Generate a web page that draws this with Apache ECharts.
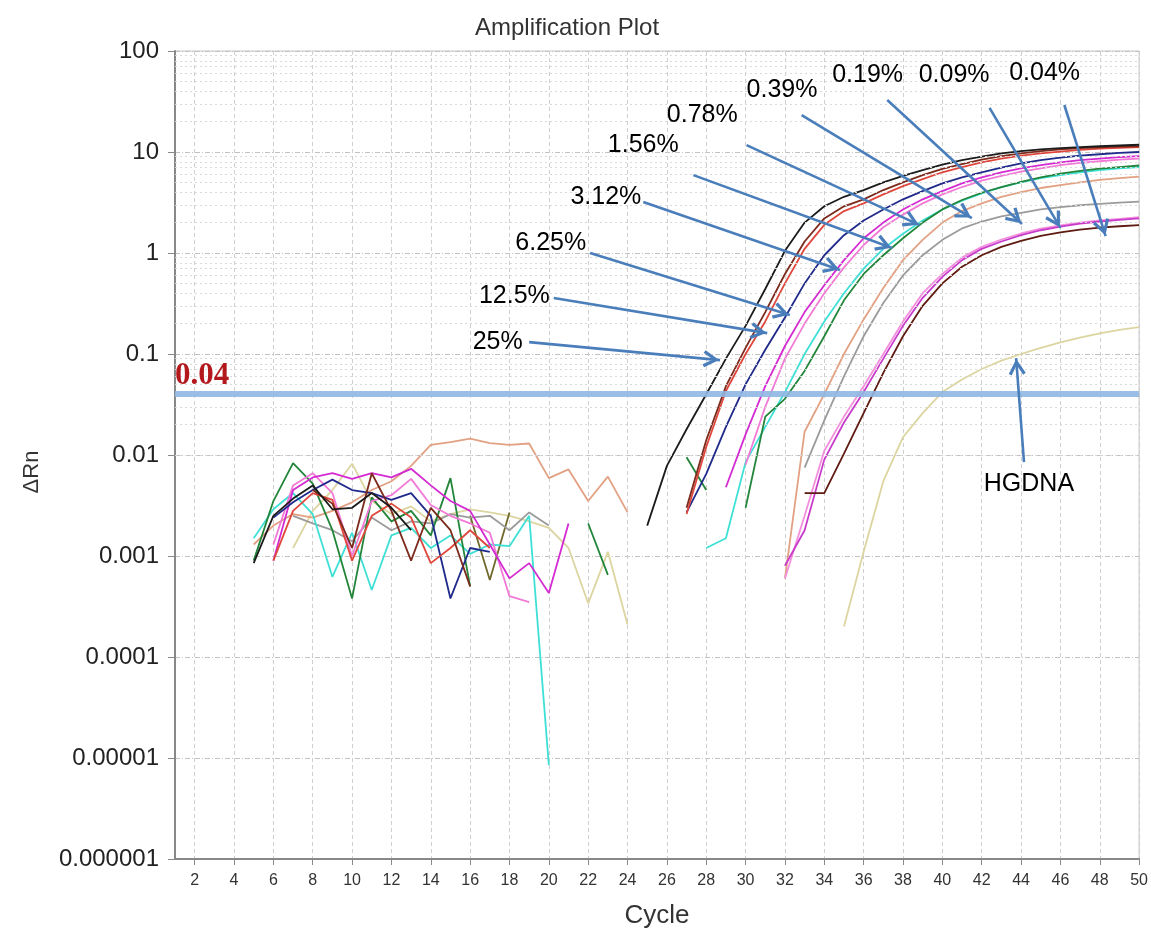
<!DOCTYPE html>
<html>
<head>
<meta charset="utf-8">
<script src="https://cdn.jsdelivr.net/npm/echarts@6/dist/echarts.min.js"></script>
<style>
html,body{margin:0;padding:0;background:#fff;}
#chart{width:1151px;height:934px;}
</style>
</head>
<body>
<div id="chart"></div>
<script>
// ---------------- DATA ----------------
const xTickValues = [2,4,6,8,10,12,14,16,18,20,22,24,26,28,30,32,34,36,38,40,42,44,46,48,50];
const yTickLabels = ['0.000001','0.00001','0.0001','0.001','0.01','0.1','1','10','100'];
const threshold = 0.04;

// each well: [cycle, ΔRn] pairs; separate segments where the trace is missing
const blackNoise = [[5,0.00085],[6,0.0025],[7,0.0037],[8,0.005],[9,0.0029],[10,0.003],[11,0.0042],[12,0.003],[13,0.0018]];
const blackAmp = [[25,0.002],[26,0.0078],[27,0.018],[28,0.04],[29,0.09],[30,0.19],[31,0.44],[32,1.05],[33,2.0],[34,2.9],[35,3.6],[36,4.2],[37,5.0],[38,5.8],[39,6.6],[40,7.5],[41,8.3],[42,9.0],[43,9.7],[44,10.2],[45,10.6],[46,10.9],[47,11.2],[48,11.4],[49,11.6],[50,11.8]];

const darkRedNoise = [[8,0.0045],[9,0.0033],[10,0.0012],[11,0.0066],[12,0.0028],[13,0.0009],[14,0.003],[15,0.0018],[16,0.0005]];
const darkRedAmp = [[27,0.003],[28,0.014],[29,0.048],[30,0.115],[31,0.26],[32,0.62],[33,1.3],[34,2.2],[35,2.9],[36,3.4],[37,4.2],[38,5.0],[39,5.9],[40,6.8],[41,7.6],[42,8.4],[43,9.1],[44,9.7],[45,10.2],[46,10.6],[47,10.9],[48,11.1],[49,11.3],[50,11.4]];

const redNoise = [[6,0.0009],[7,0.0028],[8,0.0042],[9,0.0036],[10,0.0009],[11,0.0025],[12,0.0033],[13,0.0024],[14,0.00085],[15,0.0012],[16,0.0018],[17,0.0012]];
const redAmp = [[27,0.0026],[28,0.012],[29,0.043],[30,0.1],[31,0.21],[32,0.5],[33,1.1],[34,1.9],[35,2.6],[36,3.1],[37,3.8],[38,4.6],[39,5.4],[40,6.3],[41,7.1],[42,7.9],[43,8.6],[44,9.2],[45,9.7],[46,10.1],[47,10.5],[48,10.8],[49,11.0],[50,11.2]];

const navyNoise = [[6,0.0024],[7,0.0034],[8,0.0045],[9,0.0057],[10,0.0045],[11,0.0042],[12,0.0036],[13,0.0042],[14,0.0025],[15,0.00038],[16,0.0012],[17,0.0011]];
const navyAmp = [[27,0.0027],[28,0.0065],[29,0.019],[30,0.05],[31,0.11],[32,0.23],[33,0.5],[34,0.95],[35,1.5],[36,2.1],[37,2.7],[38,3.4],[39,4.1],[40,4.9],[41,5.6],[42,6.3],[43,7.0],[44,7.7],[45,8.3],[46,8.8],[47,9.2],[48,9.5],[49,9.8],[50,10.0]];

const magentaNoise = [[6,0.0009],[7,0.0045],[8,0.006],[9,0.0066],[10,0.0058],[11,0.0066],[12,0.006],[13,0.0073],[14,0.005],[15,0.0035],[16,0.0028],[17,0.0013],[18,0.0006],[19,0.00085],[20,0.00043],[21,0.0021]];
const magentaAmp = [[29,0.0048],[30,0.016],[31,0.048],[32,0.12],[33,0.26],[34,0.48],[35,0.85],[36,1.4],[37,2.0],[38,2.7],[39,3.4],[40,4.1],[41,4.9],[42,5.6],[43,6.3],[44,6.9],[45,7.4],[46,7.9],[47,8.3],[48,8.6],[49,8.9],[50,9.1]];

const pinkNoise = [[6,0.0013],[7,0.005],[8,0.0066],[9,0.0042],[10,0.001],[11,0.0035],[12,0.004],[13,0.0058],[14,0.0032],[15,0.0025],[16,0.0021],[17,0.0017],[18,0.0004],[19,0.00035]];
const pinkAmp = [[30,0.008],[31,0.03],[32,0.09],[33,0.2],[34,0.4],[35,0.72],[36,1.2],[37,1.8],[38,2.4],[39,3.1],[40,3.8],[41,4.5],[42,5.2],[43,5.8],[44,6.4],[45,6.9],[46,7.4],[47,7.8],[48,8.1],[49,8.4],[50,8.6]];

const cyanNoise = [[5,0.0015],[6,0.0029],[7,0.0042],[8,0.0026],[9,0.00062],[10,0.0017],[11,0.00046],[12,0.0016],[13,0.0019],[14,0.0012],[15,0.0016],[16,0.00105],[17,0.0013],[18,0.00125],[19,0.0025],[20,0.0000085]];
const cyanAmp = [[28,0.0012],[29,0.0015],[30,0.0085],[31,0.019],[32,0.042],[33,0.1],[34,0.21],[35,0.4],[36,0.7],[37,1.1],[38,1.55],[39,2.1],[40,2.7],[41,3.3],[42,3.9],[43,4.5],[44,5.0],[45,5.5],[46,5.9],[47,6.3],[48,6.6],[49,6.9],[50,7.1]];

const greenNoise = [[5,0.0009],[6,0.0035],[7,0.0083],[8,0.0052],[9,0.0018],[10,0.00038],[11,0.0038],[12,0.0022],[13,0.0028],[14,0.0016],[15,0.0059],[16,0.0005]];
const greenLate = [[22,0.0021],[23,0.00065]];
const greenPre = [[27,0.0095],[28,0.0045]];
const greenAmp = [[30,0.003],[31,0.024],[32,0.036],[33,0.068],[34,0.15],[35,0.34],[36,0.62],[37,0.95],[38,1.4],[39,2.0],[40,2.7],[41,3.35],[42,3.95],[43,4.5],[44,5.05],[45,5.6],[46,6.1],[47,6.5],[48,6.85],[49,7.1],[50,7.35]];

const tanNoise = [[5,0.0013],[6,0.002],[7,0.0026],[8,0.0024],[9,0.0028],[10,0.0034],[11,0.0045],[12,0.0055],[13,0.0078],[14,0.0126],[15,0.0134],[16,0.0145],[17,0.0131],[18,0.0126],[19,0.013],[20,0.0059],[21,0.0072],[22,0.0035],[23,0.0061],[24,0.0027]];
const tanAmp = [[32,0.0006],[33,0.017],[34,0.04],[35,0.1],[36,0.22],[37,0.45],[38,0.85],[39,1.35],[40,2.0],[41,2.6],[42,3.1],[43,3.6],[44,4.0],[45,4.4],[46,4.7],[47,5.0],[48,5.3],[49,5.5],[50,5.7]];

const grayNoise = [[7,0.0025],[8,0.0021],[9,0.0018],[10,0.0014],[11,0.0024],[12,0.0018],[13,0.0022],[14,0.0021],[15,0.0026],[16,0.0024],[17,0.0025],[18,0.0018],[19,0.0027],[20,0.002]];
const grayAmp = [[33,0.0075],[34,0.022],[35,0.06],[36,0.15],[37,0.32],[38,0.6],[39,0.95],[40,1.35],[41,1.75],[42,2.05],[43,2.3],[44,2.5],[45,2.7],[46,2.85],[47,2.97],[48,3.07],[49,3.15],[50,3.22]];

const violetAmp = [[32,0.0008],[33,0.0018],[34,0.009],[35,0.021],[36,0.042],[37,0.09],[38,0.19],[39,0.36],[40,0.58],[41,0.85],[42,1.1],[43,1.3],[44,1.5],[45,1.68],[46,1.82],[47,1.95],[48,2.05],[49,2.13],[50,2.2]];
const lightPinkAmp = [[32,0.0006],[33,0.0025],[34,0.011],[35,0.024],[36,0.048],[37,0.1],[38,0.21],[39,0.4],[40,0.62],[41,0.9],[42,1.15],[43,1.36],[44,1.56],[45,1.74],[46,1.88],[47,2.0],[48,2.1],[49,2.18],[50,2.26]];
const maroonAmp = [[33,0.0042],[34,0.0042],[35,0.0103],[36,0.026],[37,0.065],[38,0.15],[39,0.3],[40,0.5],[41,0.73],[42,0.95],[43,1.15],[44,1.32],[45,1.48],[46,1.6],[47,1.7],[48,1.78],[49,1.84],[50,1.89]];

const oliveNoise = [[16,0.0025],[17,0.00058],[18,0.0027]];

const hgdnaNoise = [[7,0.0012],[8,0.0028],[9,0.0045],[10,0.0082],[11,0.0035],[12,0.0026],[13,0.0031],[14,0.0022],[15,0.0026],[16,0.0029],[17,0.0027],[18,0.0025],[19,0.0022],[20,0.0019],[21,0.0012],[22,0.00034],[23,0.0011],[24,0.00021]];
const hgdnaAmp = [[35,0.0002],[36,0.0011],[37,0.0055],[38,0.015],[39,0.026],[40,0.042],[41,0.056],[42,0.071],[43,0.086],[44,0.1],[45,0.115],[46,0.13],[47,0.145],[48,0.16],[49,0.173],[50,0.185]];

// annotations (label text, text centre, arrow start, arrow tip) in [cycle, ΔRn]
const annoLabels = ['25%','12.5%','6.25%','3.12%','1.56%','0.78%','0.39%','0.19%','0.09%','0.04%','HGDNA'];
const annoTextAt = [[17.4,0.131],[18.25,0.375],[20.1,1.26],[22.9,3.6],[24.8,11.7],[27.8,23.2],[31.85,41],[36.2,58],[40.6,58],[45.2,60.6],[44.4,0.0051]];
const arrowFrom = [[19.0,0.131],[20.25,0.358],[22.1,1.0],[24.8,3.2],[27.35,5.9],[30.05,11.7],[32.85,23.2],[37.2,32.7],[42.4,27.3],[46.2,29.2],[44.15,0.0085]];
const arrowTo = [[28.7,0.087],[31.1,0.161],[32.25,0.243],[34.8,0.68],[37.45,1.12],[38.85,1.89],[41.5,2.22],[44.05,1.94],[46.0,1.77],[48.3,1.47],[43.75,0.091]];

// ---------------- BUILD ----------------
function join() {
  const parts = Array.prototype.slice.call(arguments);
  const out = [];
  parts.forEach(function (p, i) {
    if (i > 0) {
      const prev = parts[i - 1];
      out.push([(prev[prev.length - 1][0] + p[0][0]) / 2, '-']);
    }
    p.forEach(function (pt) { out.push(pt); });
  });
  return out;
}

const wells = [
  { name: 'hgdna', color: '#dcd5a0', data: join(hgdnaNoise, hgdnaAmp) },
  { name: 'olive', color: '#6f6a2c', data: oliveNoise },
  { name: 'tan', color: '#e2a183', data: join(tanNoise, tanAmp) },
  { name: 'gray', color: '#9b9b9b', data: join(grayNoise, grayAmp) },
  { name: 'lightPink', color: '#f38fdc', data: lightPinkAmp },
  { name: 'violet', color: '#c83ccb', data: violetAmp },
  { name: 'maroon', color: '#5e1b12', data: maroonAmp },
  { name: 'cyan', color: '#3ee0d6', data: join(cyanNoise, cyanAmp) },
  { name: 'green', color: '#22853a', data: join(greenNoise, greenLate, greenPre, greenAmp) },
  { name: 'pink', color: '#f27ad6', data: join(pinkNoise, pinkAmp) },
  { name: 'magenta', color: '#d42ad2', data: join(magentaNoise, magentaAmp) },
  { name: 'navy', color: '#1f2a8a', data: join(navyNoise, navyAmp) },
  { name: 'red', color: '#e0473c', data: join(redNoise, redAmp) },
  { name: 'darkRed', color: '#7b2a1c', data: join(darkRedNoise, darkRedAmp) },
  { name: 'black', color: '#1b1b1b', data: join(blackNoise, blackAmp) }
];

const FONT = "'Liberation Sans', Arial, sans-serif";

// minor log grid lines (2..9 per decade)
const minorGrid = [];
for (let e = -6; e < 2; e++) {
  for (let m = 2; m <= 9; m++) minorGrid.push({ yAxis: m * Math.pow(10, e) });
}

// open chevron arrow head, tip at the symbol centre, pointing up
const chevron = 'path://M5,0 L5.01,0 L5,0.01 Z M5,10 L10,18 L8.4,19 L5,13.4 L1.6,19 L0,18 Z';

const series = wells.map(function (w) {
  return {
    type: 'line', name: w.name, data: w.data, showSymbol: false, symbol: 'none',
    connectNulls: false, animation: false, silent: true, z: 3,
    lineStyle: { color: w.color, width: 1.8 }
  };
});

series.unshift({
  type: 'line', name: 'minorGrid', data: [], z: 1, silent: true, animation: false,
  markLine: {
    silent: true, animation: false, symbol: 'none', label: { show: false },
    lineStyle: { color: '#dadada', width: 1, type: [2, 3] },
    emphasis: { disabled: true },
    data: minorGrid
  }
});

series.push({
  type: 'line', name: 'threshold', data: [], z: 8, silent: true, animation: false,
  markLine: {
    silent: true, animation: false, symbol: 'none',
    lineStyle: { color: 'rgba(143,183,226,0.9)', width: 6, type: 'solid' },
    emphasis: { disabled: true },
    label: {
      show: true, position: 'insideStartTop', formatter: String(threshold), distance: [0, 3],
      color: '#b3191c', fontFamily: "'Liberation Serif', 'Times New Roman', serif",
      fontWeight: 'bold', fontSize: 31
    },
    data: [{ yAxis: threshold }]
  }
});

series.push({
  type: 'line', name: 'arrows', data: [], z: 9, silent: true, animation: false,
  markLine: {
    silent: true, animation: false,
    symbol: ['none', chevron], symbolSize: [17, 34],
    label: { show: false },
    emphasis: { disabled: true },
    lineStyle: { color: '#4a7ebb', width: 2.6, type: 'solid', opacity: 1 },
    itemStyle: { color: '#4a7ebb' },
    data: arrowFrom.map(function (f, i) { return [{ coord: f }, { coord: arrowTo[i] }]; })
  }
});

series.push({
  type: 'scatter', name: 'labels', z: 10, silent: true, animation: false,
  symbolSize: 1, itemStyle: { color: 'rgba(0,0,0,0)' },
  label: {
    show: true, position: 'inside', formatter: function (p) { return p.name; },
    color: '#000', fontFamily: FONT, fontSize: 25, opacity: 1
  },
  data: annoLabels.map(function (t, i) { return { name: t, value: annoTextAt[i] }; })
});

const chart = echarts.init(document.getElementById('chart'));
chart.setOption({
  backgroundColor: '#ffffff',
  animation: false,
  title: {
    text: 'Amplification Plot', left: 470, top: 11,
    textStyle: { fontFamily: FONT, fontSize: 24, fontWeight: 'normal', color: '#333' }
  },
  grid: {
    left: 175, right: 11, top: 51, bottom: 75, containLabel: false,
    show: true, borderColor: '#c4c4c4', borderWidth: 1, backgroundColor: '#fff'
  },
  xAxis: {
    type: 'value', min: 1, max: 50,
    name: 'Cycle', nameLocation: 'middle', nameGap: 44,
    nameTextStyle: { fontFamily: FONT, fontSize: 26, color: '#333' },
    axisLine: { show: true, onZero: false, lineStyle: { color: '#888', width: 2 } },
    axisTick: { show: true, length: 6, customValues: xTickValues, lineStyle: { color: '#888' } },
    axisLabel: {
      customValues: xTickValues, margin: 14,
      fontFamily: "'Liberation Sans Narrow', 'Liberation Sans', Arial, sans-serif",
      fontSize: 16, color: '#333'
    },
    splitLine: { show: true, lineStyle: { color: '#cfcfcf', width: 1, type: [4, 3] } }
  },
  yAxis: {
    type: 'log', logBase: 10, min: 0.000001, max: 100,
    name: 'ΔRn', nameLocation: 'middle', nameGap: 132, nameRotate: 90,
    nameTextStyle: { fontFamily: FONT, fontSize: 22, color: '#333', padding: [0, 34, 0, 0] },
    axisLine: { show: true, lineStyle: { color: '#888', width: 2 } },
    axisTick: { show: true, length: 7, lineStyle: { color: '#888' } },
    axisLabel: {
      margin: 16, fontFamily: FONT, fontSize: 24, color: '#222',
      formatter: function (v) { return yTickLabels[Math.round(Math.log10(v)) + 6]; }
    },
    splitLine: { show: true, lineStyle: { color: '#c2c2c2', width: 1, type: [5, 2, 1, 2] } }
  },
  series: series
});
</script>
</body>
</html>
